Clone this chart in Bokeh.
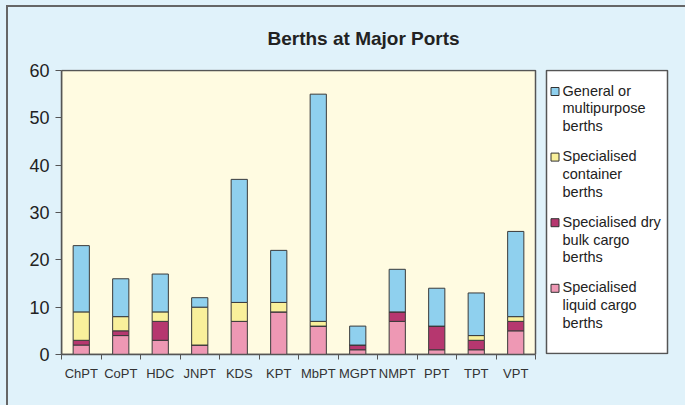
from bokeh.plotting import figure
from bokeh.models import (ColumnDataSource, FixedTicker, Range1d, GlobalInlineStyleSheet)
from bokeh.core.properties import value
from bokeh.embed import file_html
from bokeh.resources import INLINE

ports = ["ChPT", "CoPT", "HDC", "JNPT", "KDS", "KPT", "MbPT", "MGPT", "NMPT", "PPT", "TPT", "VPT"]
liquid = [2, 4, 3, 2, 7, 9, 6, 1, 7, 1, 1, 5]
drybulk = [1, 1, 4, 0, 0, 0, 0, 1, 2, 5, 2, 2]
container = [6, 3, 2, 8, 4, 2, 1, 0, 0, 0, 1, 1]
general = [14, 8, 8, 2, 26, 11, 48, 4, 9, 8, 9, 18]
y_ticks = [0, 10, 20, 30, 40, 50, 60]

series = ["liquid", "drybulk", "container", "general"]
colors = ["#ee98b4", "#b6376f", "#f9f09b", "#8fd0ee"]
legend_labels = ["General or\nmultipurpose\nberths",
                 "Specialised\ncontainer\nberths",
                 "Specialised dry\nbulk cargo\nberths",
                 "Specialised\nliquid cargo\nberths"]
legend_colors = colors[::-1]

BG = "#e0f2fa"
FONT = "Liberation Sans"
N = len(ports)
YMAX = 60

# layout in page pixels (figure is placed at 0, 0)
FIG_W, FIG_H = 685, 405
PLOT_L, PLOT_R, PLOT_T, PLOT_B = 61, 535, 70, 354
FRAME_T, FRAME_R = 69, FIG_W
PXU = (PLOT_R - PLOT_L) / N          # pixels per category
PYU = (PLOT_B - PLOT_T) / YMAX       # pixels per unit


def dx(px):
    return (px - PLOT_L) / PXU


def dy(py):
    return (PLOT_B - py) / PYU


xs = [i + 0.5 for i in range(N)]
src = ColumnDataSource(dict(x=xs, liquid=liquid, drybulk=drybulk,
                            container=container, general=general))

p = figure(width=FIG_W, height=FIG_H, output_backend="svg", toolbar_location=None,
           x_range=Range1d(0, dx(FRAME_R)), y_range=Range1d(0, dy(FRAME_T)),
           min_border_left=PLOT_L, min_border_right=FIG_W - FRAME_R,
           min_border_top=FRAME_T, min_border_bottom=FIG_H - PLOT_B)
p.background_fill_color = BG
p.border_fill_color = BG
p.outline_line_color = None
p.grid.visible = False

# plot area box
p.quad(left=[0], right=[N], bottom=[0], top=[YMAX], fill_color="#fffbe1",
       line_color="#555555", line_width=1.5)

rs = p.vbar_stack(series, x="x", width=0.41, source=src, color=colors,
                  line_color="#3a3a3a", line_width=1)
for r, c in zip(rs, colors):
    r.glyph.fill_color = c
    r.glyph.line_color = "#3a3a3a"

# x axis: labels at centres, ticks at category boundaries
xa = p.xaxis[0]
xa.bounds = (0, N)
xa.ticker = FixedTicker(ticks=xs, minor_ticks=list(range(N + 1)))
xa.major_label_overrides = {x: n for x, n in zip(xs, ports)}
xa.major_tick_line_color = None
xa.major_tick_out = 5
xa.minor_tick_out = 5
xa.minor_tick_in = 0
xa.minor_tick_line_color = "#555555"
xa.axis_line_color = "#555555"
xa.axis_line_width = 1.5
xa.major_label_text_font = FONT
xa.major_label_text_font_size = "13px"
xa.major_label_text_color = "#333333"
xa.major_label_standoff = 6

ya = p.yaxis[0]
ya.bounds = (0, YMAX)
ya.ticker = FixedTicker(ticks=y_ticks)
ya.major_tick_out = 6
ya.major_tick_in = 0
ya.minor_tick_line_color = None
ya.major_tick_line_color = "#555555"
ya.axis_line_color = "#555555"
ya.axis_line_width = 1.5
ya.major_label_text_font = FONT
ya.major_label_text_font_size = "18px"
ya.major_label_text_color = "#222222"
ya.major_label_standoff = 6

# legend box and entries
LEG_L, LEG_R, LEG_T, LEG_B = 546, 667, 70, 353
p.quad(left=[dx(LEG_L)], right=[dx(LEG_R)], bottom=[dy(LEG_B)], top=[dy(LEG_T)],
       fill_color="white", line_color="#555555", line_width=1.5)
ITEM_Y0, ITEM_DY, LINE_DY = 90, 65.6, 17.8
gx, gy, gc, tx, ty, tt = [], [], [], [], [], []
for i, (lab, c) in enumerate(zip(legend_labels, legend_colors)):
    y0 = ITEM_Y0 + i * ITEM_DY
    gx.append(dx(554.5))
    gy.append(dy(y0 + 1))
    gc.append(c)
    for j, line in enumerate(lab.split("\n")):
        tx.append(dx(562))
        ty.append(dy(y0 + j * LINE_DY))
        tt.append(line)
p.scatter(x=gx, y=gy, marker="square", size=8, fill_color=gc,
          line_color="#333333", line_width=1)
p.text(x=tx, y=ty, text=tt, text_font=value(FONT), text_font_size="14.5px",
       text_color="#222222", text_align="left", text_baseline="middle")

# title
p.title.text = "Berths at Major Ports"
p.title.align = "left"
p.title.offset = 206
p.title.standoff = 41
p.title.text_font = FONT
p.title.text_font_size = "19px"
p.title.text_font_style = "bold"
p.title.text_color = "#222222"

css = ("body { background: %s; }"
       "body::before { content: ''; position: fixed; left: 6px; top: 5px;"
       " width: 800px; height: 600px; border-left: 2px solid #666;"
       " border-top: 2px solid #666; pointer-events: none; z-index: 100; }" % BG)
p.stylesheets = [GlobalInlineStyleSheet(css=css)]

open("out.html", "w").write(file_html(p, INLINE))
